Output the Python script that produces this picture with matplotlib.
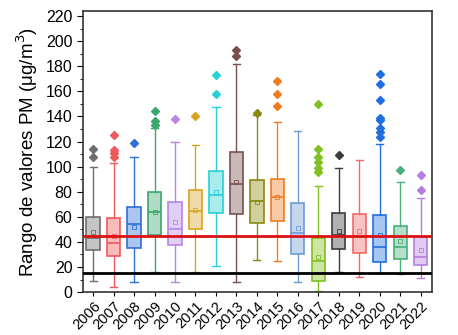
import numpy as np
import matplotlib
matplotlib.use('Agg')
import matplotlib.pyplot as plt

plt.rcParams['font.family'] = ['Liberation Sans', 'DejaVu Sans']

years = [str(y) for y in range(2006, 2023)]
whislo = [8.8, 4.3, 8, 16.2, 8, 16.2, 20.7, 8.2, 25.5, 24.7, 8.2, 1, 15.7, 12.2, 14.9, 14.1, 11.4]
q1 = [33.5, 29, 34.8, 45.4, 37.5, 50.7, 63.2, 62.2, 54.8, 56.6, 30, 8.8, 34, 30.8, 24.2, 26.3, 21.5]
med = [43.3, 38.8, 54, 63.5, 50.5, 64.6, 77.6, 85.8, 72.5, 76, 46.8, 24.7, 45.4, 44.6, 36.1, 35.6, 27.6]
q3 = [59.5, 58.7, 67.5, 80, 72, 81.3, 96.7, 111.8, 89.3, 90.3, 70.7, 43.3, 62.7, 62.2, 61.4, 52.9, 43.6]
whishi = [99.4, 102.6, 107.4, 130.5, 119.8, 117, 147.7, 181.5, 141, 135.8, 128.6, 84.5, 98.6, 105.2, 117.7, 87.4, 75.2]
means = [48, 44.6, 52, 63.5, 55.5, 65.4, 80, 87.4, 72, 76, 51.3, 28, 48.6, 48.6, 45.4, 40.9, 33.5]
fliers = [
    [108, 114],
    [108, 111, 113, 125],
    [119],
    [133, 136, 144],
    [138],
    [140],
    [158, 173],
    [188, 193],
    [143],
    [148, 158, 168],
    [],
    [96, 99, 104, 108, 114, 150],
    [109],
    [],
    [124, 128, 131, 137, 139, 153, 166, 174],
    [97],
    [81, 93],
]
colors = ['#6e6e6e', '#f0595c', '#2f6fd6', '#3aa76d', '#b685e8', '#d9a520',
          '#27d1d6', '#7a5050', '#8a8a10', '#f07c1e', '#6c9bd4', '#80c020',
          '#3c3c3c', '#ee6a6a', '#1f6fdf', '#48b07a', '#b47ee0']
limit_who = 15
limit_nat = 45

fig = plt.figure(figsize=(4.58, 3.35), dpi=100)
ax = fig.add_axes([0.181, 0.128, 0.762, 0.839])

stats = []
for i in range(len(years)):
    stats.append(dict(whislo=whislo[i], q1=q1[i], med=med[i], q3=q3[i],
                      whishi=whishi[i], mean=means[i], fliers=fliers[i]))

pos = np.arange(1, len(years) + 1)
for i, s in enumerate(stats):
    c = colors[i]
    ax.bxp([s], positions=[pos[i]], widths=0.65, patch_artist=True,
           showmeans=True, showfliers=True,
           boxprops=dict(facecolor=matplotlib.colors.to_rgba(c, 0.4), edgecolor=c, linewidth=1.2),
           medianprops=dict(color=c, linewidth=1.2),
           whiskerprops=dict(color=c, linewidth=1),
           capprops=dict(color=c, linewidth=1),
           capwidths=0.35,
           meanprops=dict(marker='s', markersize=3.5, markerfacecolor='none',
                          markeredgecolor=c, markeredgewidth=0.6),
           flierprops=dict(marker='D', markersize=4.5, markerfacecolor=c,
                           markeredgecolor=c))

ax.axhline(limit_nat, color='#dd1111', linewidth=2, zorder=5)
ax.axhline(limit_who, color='black', linewidth=2, zorder=5)

ax.set_xlim(0.5, len(years) + 0.55)
ax.set_ylim(0, 224)
ax.set_yticks(np.arange(0, 221, 20))
ax.set_yticks(np.arange(0, 221, 10), minor=True)
ax.set_xticks(pos)
ax.set_xticklabels(years, rotation=45, ha='right', rotation_mode='anchor')
ax.tick_params(axis='y', direction='out', labelsize=11.5)
ax.tick_params(axis='x', direction='out', labelsize=10.5, length=3, pad=2)
ax.tick_params(axis='y', which='major', length=4)
ax.tick_params(axis='y', which='minor', length=2.5)
for sp in ax.spines.values():
    sp.set_color('#333333')
    sp.set_linewidth(1.2)
ax.set_ylabel('Rango de valores PM (μg/m$^3$)', fontsize=13.5, labelpad=4)

fig.savefig('out.png', dpi=100)
